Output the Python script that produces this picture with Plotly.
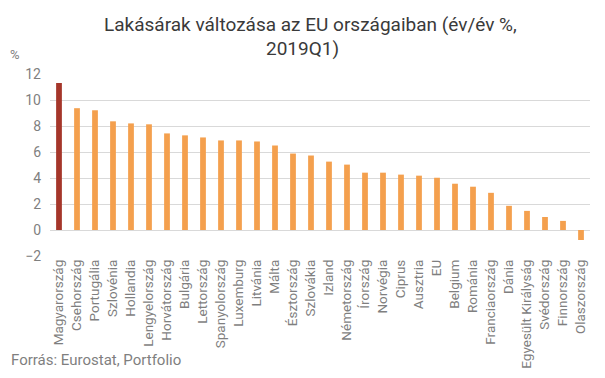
import plotly.graph_objects as go

countries = ["Magyarország", "Csehország", "Portugália", "Szlovénia", "Hollandia",
             "Lengyelország", "Horvátország", "Bulgária", "Lettország", "Spanyolország",
             "Luxemburg", "Litvánia", "Málta", "Észtország", "Szlovákia", "Izland",
             "Németország", "Írország", "Norvégia", "Ciprus", "Ausztria", "EU",
             "Belgium", "Románia", "Franciaország", "Dánia", "Egyesült Királyság",
             "Svédország", "Finnország", "Olaszország"]
values = [11.3, 9.37, 9.21, 8.36, 8.2, 8.13, 7.43, 7.28, 7.12, 6.89,
          6.89, 6.81, 6.5, 5.88, 5.73, 5.26, 5.03, 4.41, 4.41, 4.26,
          4.18, 4.02, 3.56, 3.33, 2.86, 1.86, 1.47, 1.0, 0.7, -0.77]
y_ticks = [-2, 0, 2, 4, 6, 8, 10, 12]

highlight = "Magyarország"
colors = ["#a5362a" if c == highlight else "#f4a04e" for c in countries]

# the page body adds an 8px margin; work in page pixel coordinates and compensate
OFF = 8
W, H = 605 - 2 * OFF, 378 - 2 * OFF
plot_left, plot_right, plot_top, plot_bottom = 50, 590, 74, 256
L = plot_left - OFF
R = W - (plot_right - OFF)
T = plot_top - OFF
B = H - (plot_bottom - OFF)
pw = W - L - R
ph = H - T - B


def px(x):
    return (x - OFF - L) / pw


def py(y):
    return (H - B - (y - OFF)) / ph


fig = go.Figure(go.Bar(x=countries, y=values, marker=dict(color=colors, line=dict(width=0)),
                       hoverinfo="x+y"))

fig.update_layout(
    width=W, height=H,
    margin=dict(l=L, r=R, t=T, b=B),
    paper_bgcolor="white", plot_bgcolor="white",
    bargap=0.68,
    showlegend=False,
    font=dict(family="Roboto", color="#7f7f7f"),
    xaxis=dict(tickangle=-90, tickfont=dict(size=13.5, color="#7f7f7f"),
               showgrid=False, zeroline=False, showline=False, ticks="",
               automargin=False),
    yaxis=dict(range=[-2, 12], tickvals=y_ticks, tickfont=dict(size=14, color="#7f7f7f"),
               gridcolor="#d9d9d9", gridwidth=1, zeroline=True, zerolinecolor="#d9d9d9",
               zerolinewidth=1, showline=False, ticks="", ticklabelstandoff=8,
               automargin=False),
    annotations=[
        dict(text="Lakásárak változása az EU országaiban (év/év %,", x=px(310), y=py(24),
             xref="paper", yref="paper", xanchor="center", yanchor="middle", showarrow=False,
             font=dict(family="Roboto", size=19, color="#3a3a3a")),
        dict(text="2019Q1)", x=px(302), y=py(48),
             xref="paper", yref="paper", xanchor="center", yanchor="middle", showarrow=False,
             font=dict(family="Roboto", size=19, color="#3a3a3a")),
        dict(text="%", x=px(15), y=py(55), xref="paper", yref="paper", showarrow=False,
             xanchor="center", yanchor="middle", font=dict(size=13, color="#7f7f7f")),
        dict(text="Forrás: Eurostat, Portfolio", x=px(9), y=py(360), xref="paper", yref="paper",
             showarrow=False, xanchor="left", yanchor="middle",
             font=dict(size=15, color="#7f7f7f")),
    ],
)

fig.write_html("out.html")
